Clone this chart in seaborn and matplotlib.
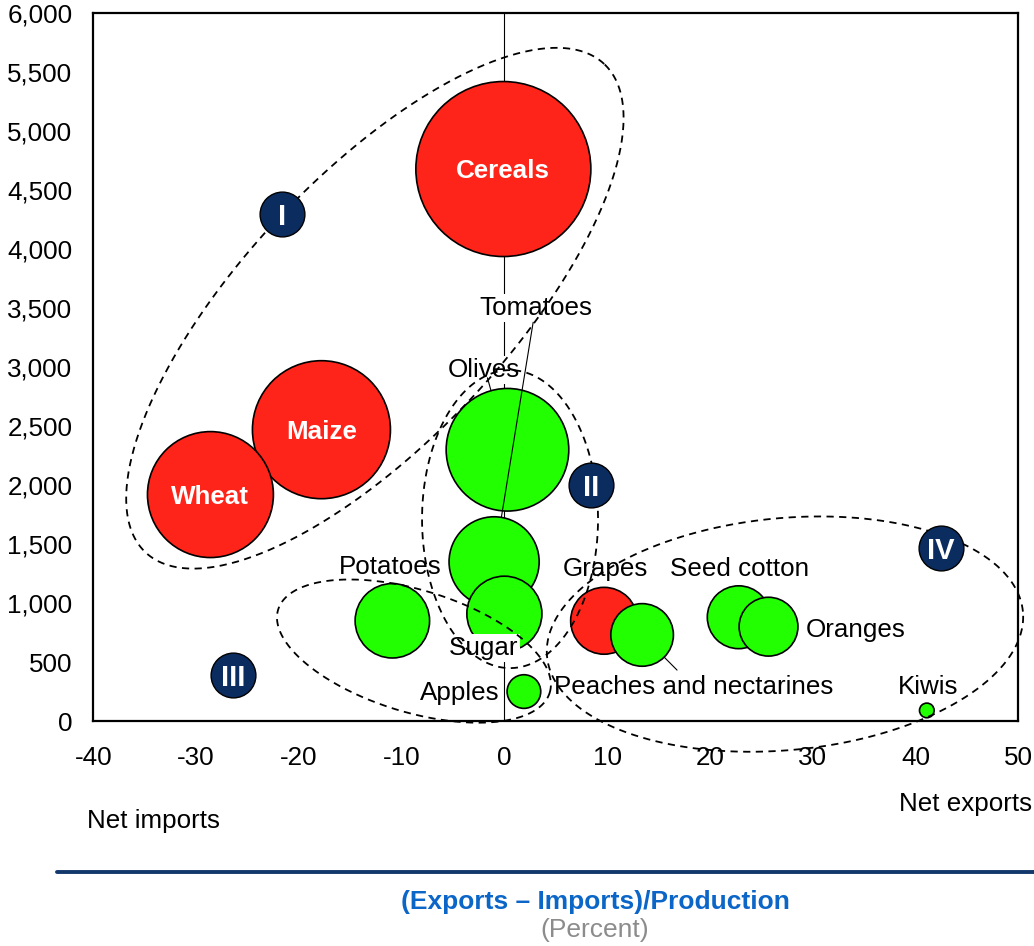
import numpy as np
import pandas as pd
import matplotlib
matplotlib.use("Agg")
import matplotlib.pyplot as plt
import seaborn as sns
from matplotlib.lines import Line2D

# ---- data -------------------------------------------------------------
products = ["Cereals", "Olives", "Maize", "Wheat", "Tomatoes", "Sugar",
            "Seed cotton", "Potatoes", "Grapes", "Oranges",
            "Peaches and nectarines", "Apples", "Kiwis"]
net_trade = [-0.1, 0.3, -17.8, -28.6, -1.0, 0.0,
             22.8, -10.9, 9.7, 25.7, 13.4, 1.9, 41.1]
production = [4680, 2300, 2470, 1920, 1350, 910,
              880, 850, 850, 800, 730, 250, 90]
bubble_size = [100, 49.1, 62.2, 51.8, 26.5, 18.4,
               12.9, 18.1, 14.6, 11.3, 12.8, 3.7, 0.7]
bubble_colour = ["#ff2419", "#22ff00", "#ff2419", "#ff2419", "#22ff00", "#22ff00",
                 "#22ff00", "#22ff00", "#ff2419", "#22ff00", "#22ff00", "#22ff00",
                 "#22ff00"]

# labels written inside the big bubbles
inner_labels = ["Cereals", "Maize", "Wheat"]

# labels placed beside the bubbles (x, baseline y)
outer_labels = ["Tomatoes", "Olives", "Potatoes", "Sugar", "Apples", "Grapes",
                "Seed cotton", "Oranges", "Peaches and nectarines", "Kiwis"]
outer_label_x = [3.1, -2.0, -11.1, -2.05, -4.35, 9.86, 22.9, 34.2, 18.4, 41.2]
outer_label_y = [3441, 2915, 1243, 559, 178, 1226, 1226, 712, 229, 229]

# leader lines: product -> start point of the line
leaders = {"Tomatoes": (2.8, 3381), "Olives": (-1.65, 2910),
           "Peaches and nectarines": (16.8, 432)}

# group markers
group_names = ["I", "II", "III", "IV"]
group_x = [-21.6, 8.4, -26.4, 42.5]
group_y = [4300, 2000, 390, 1470]

# group outlines: centre (data), semi-axes (px), rotation (deg)
group_outlines = [
    (-12.6, 3500, 335, 132, 46.8),
    (0.55, 1712, 149, 88, 90.0),
    (-8.8, 593, 142, 61, -17.0),
    (27.3, 737, 239, 116, 5.4),
]

x_ticks = list(range(-40, 51, 10))
y_ticks = list(range(0, 6001, 500))

# ---- style --------------------------------------------------------------
sns.set_style("white")
plt.rcParams["font.family"] = ["Liberation Sans", "DejaVu Sans"]
plt.rcParams["axes.unicode_minus"] = False

FS = 18.7
DPI = 100
fig = plt.figure(figsize=(10.34, 9.46), dpi=DPI)
ax = fig.add_axes([0.0902, 0.2378, 0.8946, 0.7481])

df = pd.DataFrame({"product": products, "net_trade": net_trade,
                   "production": production, "size": bubble_size})

S_MAX = (2 * 87.5 * 72 / DPI) ** 2  # marker area (pt^2) for size 100
palette = dict(zip(products, bubble_colour))

ax.axvline(0, color="black", lw=0.8, zorder=1)

sns.scatterplot(data=df, x="net_trade", y="production", hue="product",
                palette=palette, size="size", sizes=(0, S_MAX),
                size_norm=(0, 100), edgecolor="black", linewidth=1.2,
                alpha=1, legend=False, ax=ax, zorder=2)

ax.set_xlim(-40, 50)
ax.set_ylim(0, 6000)
ax.set_xlabel("")
ax.set_ylabel("")
ax.set_xticks(x_ticks)
ax.set_xticklabels([str(v) for v in x_ticks])
ax.set_yticks(y_ticks)
ax.set_yticklabels([f"{v:,}" for v in y_ticks])
ax.tick_params(axis="both", direction="in", length=6, width=1,
               labelsize=FS, colors="black")
ax.tick_params(axis="x", pad=18)
ax.tick_params(axis="y", pad=15)
for sp in ax.spines.values():
    sp.set_color("black")
    sp.set_linewidth(1.6)

size_of = dict(zip(products, bubble_size))
pos_of = dict(zip(products, zip(net_trade, production)))


def radius_pt(name):
    return np.sqrt(size_of[name] / 100 * S_MAX) / 2


# labels inside bubbles
for name in inner_labels:
    ax.annotate(name, xy=pos_of[name], xytext=(0, -6.7),
                textcoords="offset points", ha="center", va="baseline",
                fontsize=FS, fontweight="bold", color="white", zorder=3)

# labels beside bubbles
for name, lx, ly in zip(outer_labels, outer_label_x, outer_label_y):
    ax.text(lx, ly, name, ha="center", va="baseline", fontsize=FS,
            color="black", zorder=3,
            bbox=dict(boxstyle="square,pad=0.08", fc="white", ec="none"))

# leader lines
for name, start in leaders.items():
    ax.annotate("", xy=pos_of[name], xytext=start,
                arrowprops=dict(arrowstyle="-", color="black", lw=0.8,
                                shrinkA=0, shrinkB=radius_pt(name)),
                zorder=3)


# dashed group outlines, defined in screen space so they stay elliptical
def dashed_ellipse(cx, cy, a_px, b_px, angle_deg):
    t = np.linspace(0, 2 * np.pi, 500)
    px, py = ax.transData.transform((cx, cy))
    th = np.deg2rad(angle_deg)
    ex = a_px * np.cos(t) * np.cos(th) - b_px * np.sin(t) * np.sin(th)
    ey = a_px * np.cos(t) * np.sin(th) + b_px * np.sin(t) * np.cos(th)
    pts = ax.transData.inverted().transform(np.column_stack([px + ex, py + ey]))
    ax.plot(pts[:, 0], pts[:, 1], color="black", lw=1.3,
            linestyle=(0, (4, 3)), clip_on=False, zorder=4)


for outline in group_outlines:
    dashed_ellipse(*outline)

# group markers
sns.scatterplot(x=group_x, y=group_y, s=(2 * 22.4 * 72 / DPI) ** 2,
                color="#0b2c5f", edgecolor="black", linewidth=1,
                legend=False, ax=ax, zorder=5)
for g, gx, gy in zip(group_names, group_x, group_y):
    ax.text(gx, gy, g, ha="center", va="center_baseline", fontsize=21,
            fontweight="bold", color="white", zorder=6)

# ---- annotations below the axes --------------------------------------------
fig.text(153.3 / 1034, 1 - 828 / 946, "Net imports", ha="center",
         va="baseline", fontsize=FS, color="black")
fig.text(1032 / 1034, 1 - 811 / 946, "Net exports", ha="right",
         va="baseline", fontsize=FS, color="black")
fig.add_artist(Line2D([57 / 1034, 1.0], [1 - 872 / 946] * 2,
                      color="#12386b", lw=2.8))
fig.text(595 / 1034, 1 - 902 / 946, "(Exports \u2013 Imports)/Production",
         ha="center", va="center", fontsize=19, fontweight="bold",
         color="#0b66c8")
fig.text(595 / 1034, 1 - 930 / 946, "(Percent)", ha="center", va="center",
         fontsize=19, color="#8c8c8c")

fig.savefig("out.png", dpi=DPI)
